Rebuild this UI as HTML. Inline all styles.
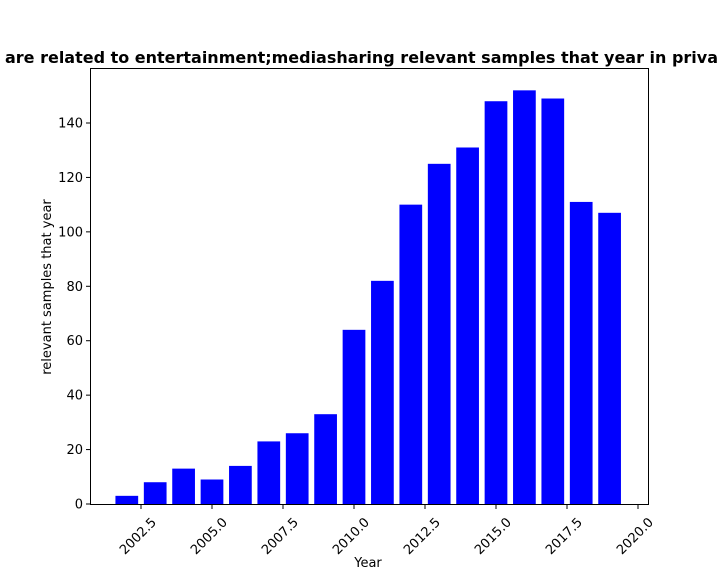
<!DOCTYPE html>
<html><head><meta charset="utf-8"><style>
body{margin:0;background:#fff;}
svg{display:block;font-family:"DejaVu Sans","Liberation Sans",sans-serif;}
</style></head><body>
<svg id="chart" width="720" height="576">
<text x="5" y="63" font-size="16" font-weight="bold" fill="#000" textLength="713" lengthAdjust="spacingAndGlyphs">are related to entertainment;mediasharing relevant samples that year in priva</text>
<g id="bars"></g>
<rect x="90.5" y="68.5" width="558" height="436" fill="none" stroke="#000" stroke-width="1"/>
<g id="yticks"></g><g id="xticks"></g>
<text x="368" y="567" font-size="13" text-anchor="middle">Year</text>
<text transform="translate(51,287) rotate(-90)" font-size="13" text-anchor="middle">relevant samples that year</text>
</svg>
<script>
const years=[2002,2003,2004,2005,2006,2007,2008,2009,2010,2011,2012,2013,2014,2015,2016,2017,2018,2019];
const counts=[3,8,13,9,14,23,26,33,64,82,110,125,131,148,152,149,111,107];
const yTicks=[0,20,40,60,80,100,120,140];
const xTicks=[2002.5,2005.0,2007.5,2010.0,2012.5,2015.0,2017.5,2020.0];
const NS="http://www.w3.org/2000/svg";
function xs(v){return 141+(v-2002.5)*28.4;}
function ys(v){return 504-v*2.7214;}
function mk(tag,attrs,parent){const e=document.createElementNS(NS,tag);for(const k in attrs)e.setAttribute(k,attrs[k]);parent.appendChild(e);return e;}
const bars=document.getElementById('bars');
years.forEach((yr,i)=>{
  const w=0.8*28.4;
  const r=mk('rect',{x:xs(yr)-w/2,y:ys(counts[i]),width:w,height:ys(0)-ys(counts[i]),fill:'#0000ff'},bars);
  
  
});
const yg=document.getElementById('yticks');
yTicks.forEach(t=>{
  const y=ys(t);
  mk('line',{x1:86,x2:90.5,y1:y,y2:y,stroke:'#000'},yg);
  const tx=mk('text',{x:83,y:y+4.5,'font-size':13,'text-anchor':'end'},yg);
  tx.textContent=t;
  
  
});
const xg=document.getElementById('xticks');
xTicks.forEach(t=>{
  const x=xs(t);
  mk('line',{x1:x,x2:x,y1:504.5,y2:509,stroke:'#000'},xg);
  const tx=mk('text',{transform:`translate(${x+16},${523}) rotate(-45)`,'font-size':13,'text-anchor':'end'},xg);
  tx.textContent=t.toFixed(1);
  
  
});
</script>
</body></html>
